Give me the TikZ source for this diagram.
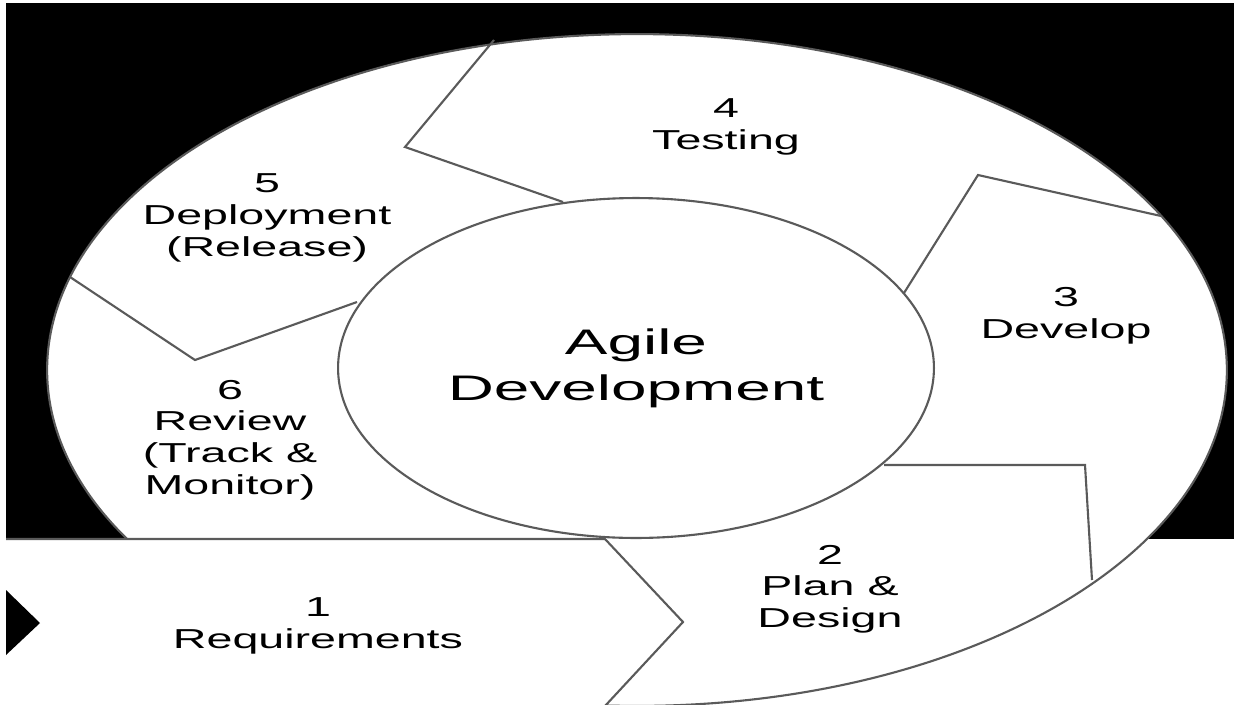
\documentclass[tikz,border=0pt]{standalone}
\usepackage{fontspec}
\setmainfont{Liberation Sans}[FakeStretch=1.7]
\newfontfamily\hubfont{Liberation Sans}[FakeStretch=1.8]
\usetikzlibrary{shapes.geometric}
\definecolor{edgegray}{HTML}{5A5A5A}
\tikzset{
  sep/.style={draw=edgegray,line width=1.2pt},
  lbl/.style={align=center,inner sep=0pt,font=\fontsize{15.6}{18}\selectfont},
}
\begin{document}
\begin{tikzpicture}[x=0.02cm,y=-0.02cm]
 \useasboundingbox (0,0) rectangle (1234,704);
 \clip (0,0) rectangle (1234,704);
 \fill[white](0,0) rectangle (1234,704);
 \fill[black](6,3) rectangle (1234,539);
 % outer ring
 \draw[sep,fill=white](637,370) ellipse [x radius=11.8cm,y radius=6.72cm];
 % requirements arrow
 \fill[white](6,539)--(605,539)--(683,622)--(605,706)--(6,706)--cycle;
 \draw[sep](6,539)--(605,539)--(683,622)--(605,706);
 \fill[black](6,590)--(40,623)--(6,655)--cycle;
 % hub
 \node[ellipse,draw=edgegray,line width=1.2pt,fill=white,inner sep=0pt,
   minimum width=11.92cm,minimum height=6.8cm,
   font=\hubfont\fontsize{20.2}{26.2}\selectfont,align=center] (agile) at (636,368) {Agile\\Development};
 % separators
 \draw[sep](494,40)--(405,147)--(563,202);
 \draw[sep](904,293)--(978,175)--(1161,216);
 \draw[sep](884,465)--(1085,465)--(1092,580);
 \draw[sep](70,277)--(195,360)--(357,302);
 % labels
 \node[lbl] (test) at (726,127) {4\\Testing};
 \node[lbl] (dev) at (1066,316) {3\\Develop};
 \node[lbl] (plan) at (830,589) {2\\Plan \&\\Design};
 \node[lbl] (req) at (318,626) {1\\Requirements};
 \node[lbl] (review) at (230,440) {6\\Review\\(Track \&\\Monitor)};
 \node[lbl] (deploy) at (267,218) {5\\Deployment\\(Release)};
\end{tikzpicture}
\end{document}
